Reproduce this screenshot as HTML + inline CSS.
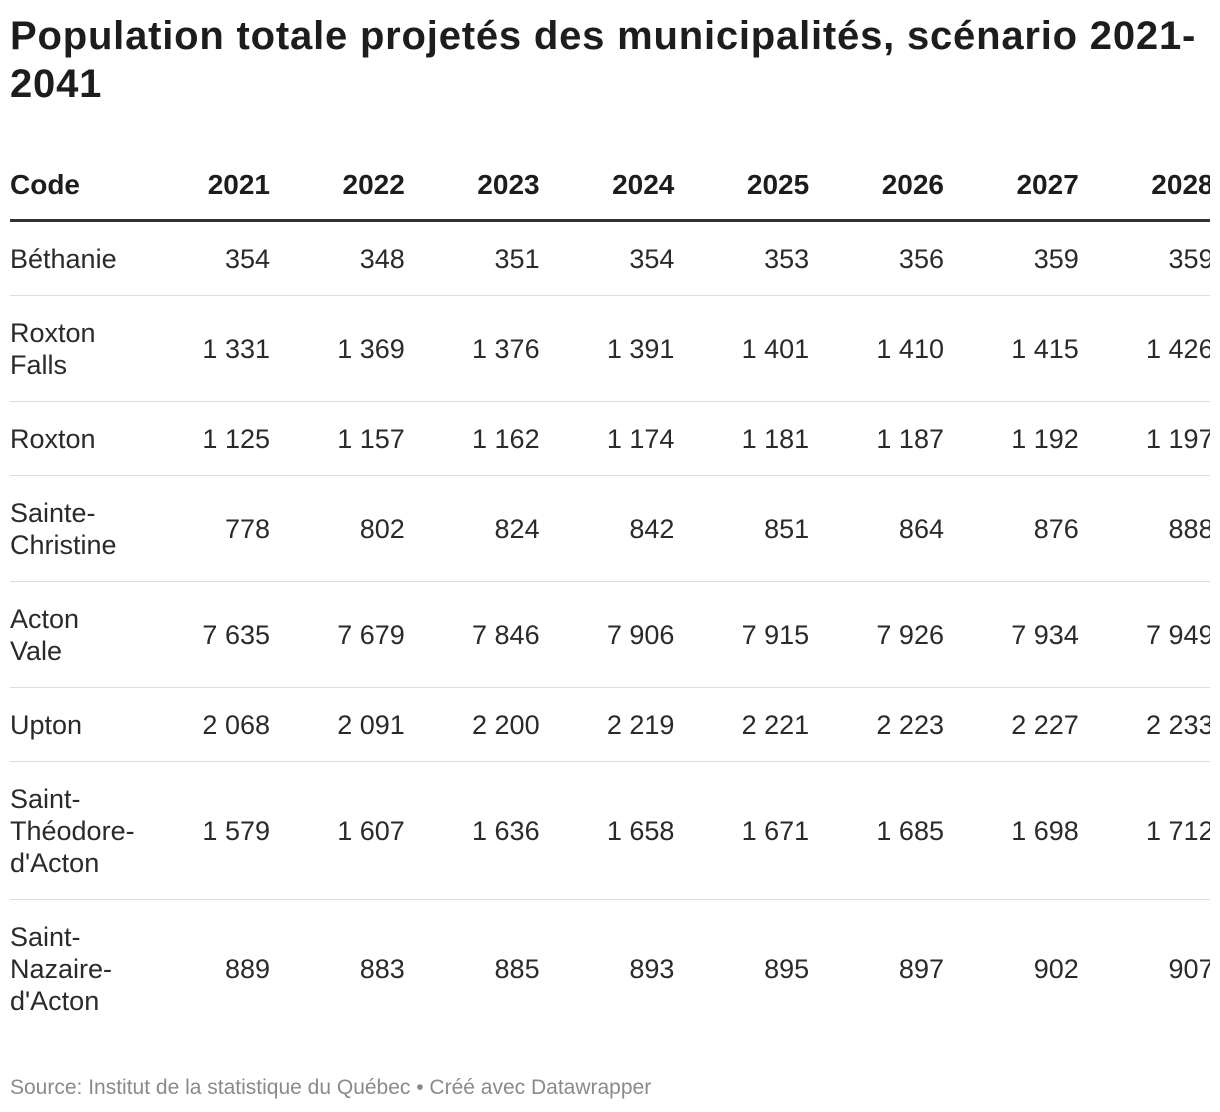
<!DOCTYPE html>
<html><head><meta charset="utf-8">
<style>
body{margin:0;width:1220px;height:1112px;background:#fff;font-family:"Liberation Sans",Arial,sans-serif;color:#2a2a2a;position:relative;overflow:hidden}
h1{position:absolute;left:10px;top:12px;margin:0;font-size:40px;line-height:48px;font-weight:bold;color:#1d1d1d;width:1210px;letter-spacing:0.8px;white-space:nowrap}
.wrap{position:absolute;left:10px;top:148px;width:1200px;overflow:hidden}
table{border-collapse:collapse;table-layout:fixed;width:1203.6px}
th,td{padding:0;font-size:27px;line-height:32px;white-space:nowrap}
th{font-weight:bold;color:#1d1d1d;text-align:right;height:69px;vertical-align:middle;border-bottom:3px solid #333;padding-top:2px;font-size:28px}
th.c,td.c{text-align:left}
td{text-align:right;border-bottom:1px solid #ddd;padding:20.5px 0;vertical-align:middle}
tr:last-child td{border-bottom:none}
.src{position:absolute;left:10px;top:1076px;font-size:21px;color:#8a8a8a}
</style></head><body>
<h1>Population totale projetés des municipalités, scénario 2021-<br>2041</h1>
<div class="wrap">
<table>
<colgroup><col style="width:125px"><col style="width:135px"><col style="width:134.8px"><col style="width:134.8px"><col style="width:134.8px"><col style="width:134.8px"><col style="width:134.8px"><col style="width:134.8px"><col style="width:134.8px"></colgroup>
<thead><tr><th class="c">Code</th><th>2021</th><th>2022</th><th>2023</th><th>2024</th><th>2025</th><th>2026</th><th>2027</th><th>2028</th></tr></thead>
<tbody>
<tr><td class="c">Béthanie</td><td>354</td><td>348</td><td>351</td><td>354</td><td>353</td><td>356</td><td>359</td><td>359</td></tr>
<tr><td class="c">Roxton<br>Falls</td><td>1 331</td><td>1 369</td><td>1 376</td><td>1 391</td><td>1 401</td><td>1 410</td><td>1 415</td><td>1 426</td></tr>
<tr><td class="c">Roxton</td><td>1 125</td><td>1 157</td><td>1 162</td><td>1 174</td><td>1 181</td><td>1 187</td><td>1 192</td><td>1 197</td></tr>
<tr><td class="c">Sainte-<br>Christine</td><td>778</td><td>802</td><td>824</td><td>842</td><td>851</td><td>864</td><td>876</td><td>888</td></tr>
<tr><td class="c">Acton<br>Vale</td><td>7 635</td><td>7 679</td><td>7 846</td><td>7 906</td><td>7 915</td><td>7 926</td><td>7 934</td><td>7 949</td></tr>
<tr><td class="c">Upton</td><td>2 068</td><td>2 091</td><td>2 200</td><td>2 219</td><td>2 221</td><td>2 223</td><td>2 227</td><td>2 233</td></tr>
<tr><td class="c">Saint-<br>Théodore-<br>d'Acton</td><td>1 579</td><td>1 607</td><td>1 636</td><td>1 658</td><td>1 671</td><td>1 685</td><td>1 698</td><td>1 712</td></tr>
<tr><td class="c">Saint-<br>Nazaire-<br>d'Acton</td><td>889</td><td>883</td><td>885</td><td>893</td><td>895</td><td>897</td><td>902</td><td>907</td></tr>
</tbody></table></div>
<div class="src">Source: Institut de la statistique du Québec • Créé avec Datawrapper</div>
</body></html>
